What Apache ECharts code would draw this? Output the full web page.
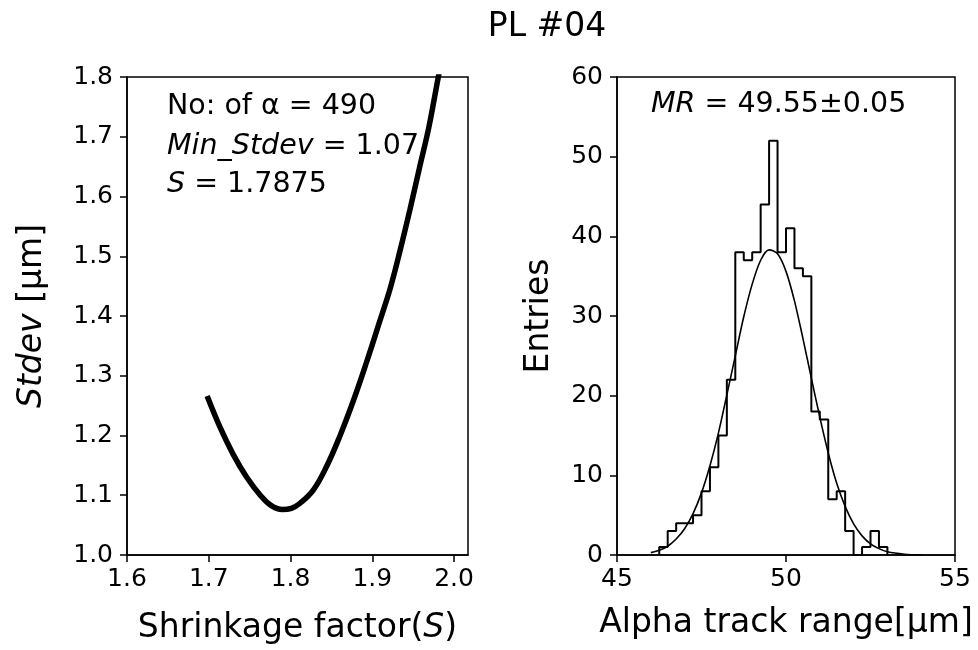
<!DOCTYPE html>
<html><head><meta charset="utf-8">
<script src="https://cdn.jsdelivr.net/npm/echarts@6/dist/echarts.min.js"></script>
<style>html,body{margin:0;padding:0;background:#fff}#c{width:978px;height:650px}</style>
</head><body><div id="c"></div>
<script>
// Left panel: Stdev vs shrinkage factor
const shrinkS   = [1.698, 1.714, 1.730, 1.746, 1.763, 1.776, 1.790, 1.801, 1.812, 1.828, 1.844, 1.860, 1.877, 1.893, 1.909, 1.922, 1.934, 1.946, 1.958, 1.969, 1.980, 1.987];
const stdevVals = [1.266, 1.213, 1.168, 1.131, 1.100, 1.083, 1.076, 1.078, 1.087, 1.109, 1.148, 1.198, 1.259, 1.323, 1.391, 1.447, 1.510, 1.578, 1.650, 1.715, 1.795, 1.845];
const leftXRange = [1.6, 2.017];
const leftXTicks = [1.6, 1.7, 1.8, 1.9, 2.0];
const leftYRange = [1.0, 1.8];

// Right panel: histogram of alpha track range
const binEdges  = [46.25, 46.5, 46.75, 47.0, 47.25, 47.5, 47.75, 48.0, 48.25, 48.5, 48.75, 49.0, 49.25, 49.5, 49.75, 50.0, 50.25, 50.5, 50.75, 51.0, 51.25, 51.5, 51.75, 52.0, 52.25, 52.5, 52.75, 53.0];
const binCounts = [1, 3, 4, 4, 5, 8, 11, 15, 22, 38, 37, 38, 44, 52, 38, 41, 36, 35, 18, 17, 7, 8, 3, 0, 1, 3, 1];
// Gaussian fit curve
const fitX = [46.0, 46.25, 46.5, 46.75, 47.0, 47.25, 47.5, 47.75, 48.0, 48.25, 48.5, 48.75, 49.0, 49.25, 49.5, 49.75, 50.0, 50.25, 50.5, 50.75, 51.0, 51.25, 51.5, 51.75, 52.0, 52.25, 52.5, 52.75, 53.0, 53.5, 54.0];
const fitY = [0.3, 0.6, 1.1, 2.0, 3.3, 5.2, 7.8, 11.2, 15.3, 20.1, 25.0, 29.9, 34.0, 37.0, 38.3, 37.8, 35.6, 31.9, 27.2, 22.2, 17.3, 12.8, 9.0, 6.1, 3.9, 2.4, 1.4, 0.8, 0.4, 0.1, 0.0];
const rightXRange = [45, 55];
const rightYRange = [0, 60];

const FONT = 'DejaVu Sans';
const leftLine = shrinkS.map((s, i) => [s, stdevVals[i]]);
const stepData = [[binEdges[0], 0]];
binCounts.forEach((c, i) => stepData.push([binEdges[i], c]));
stepData.push([binEdges[binEdges.length - 1], 0]);
const fitData = fitX.map((x, i) => [x, fitY[i]]);

const chart = echarts.init(document.getElementById('c'), null, {renderer: 'canvas'});
const axisCommon = {
  axisLine: {show: true, onZero: false, lineStyle: {color: '#000', width: 1.5}},
  axisTick: {show: true, inside: false, length: 7, lineStyle: {color: '#000', width: 1.5}},
  splitLine: {show: false},
  axisLabel: {color: '#000', fontFamily: FONT, fontSize: 25},
  nameTextStyle: {color: '#000', fontFamily: FONT, fontSize: 33,
    rich: {i: {fontStyle: 'italic', fontFamily: FONT, fontSize: 33, color: '#000'}}}
};
const annFont = '28.5px "DejaVu Sans"';
const annRich = {i: {fontStyle: 'italic', fontFamily: FONT, fontSize: 28.5, fill: '#000'}};
chart.setOption({
  animation: false,
  backgroundColor: '#fff',
  title: {text: 'PL #04', left: 542, top: 6, textAlign: 'center',
    textStyle: {fontFamily: FONT, fontSize: 33, fontWeight: 'normal', color: '#000'}},
  grid: [
    {left: 127, top: 77, width: 341, height: 478, show: true, borderColor: '#000', borderWidth: 1.5, backgroundColor: 'transparent'},
    {left: 617, top: 77, width: 338, height: 478, show: true, borderColor: '#000', borderWidth: 1.5, backgroundColor: 'transparent'}
  ],
  xAxis: [
    Object.assign({}, axisCommon, {gridIndex: 0, type: 'value', min: leftXRange[0], max: leftXRange[1],
      name: 'Shrinkage factor({i|S})', nameLocation: 'middle', nameGap: 57,
      axisTick: Object.assign({}, axisCommon.axisTick, {customValues: leftXTicks}),
      axisLabel: Object.assign({}, axisCommon.axisLabel, {margin: 12, customValues: leftXTicks, formatter: v => v.toFixed(1)})}),
    Object.assign({}, axisCommon, {gridIndex: 1, type: 'value', min: rightXRange[0], max: rightXRange[1], interval: 5,
      name: 'Alpha track range[µm]', nameLocation: 'middle', nameGap: 52,
      axisLabel: Object.assign({}, axisCommon.axisLabel, {margin: 12})})
  ],
  yAxis: [
    Object.assign({}, axisCommon, {gridIndex: 0, type: 'value', min: leftYRange[0], max: leftYRange[1], interval: 0.1,
      name: '{i|Stdev} [µm]', nameLocation: 'middle', nameGap: 78, nameRotate: 90,
      axisLabel: Object.assign({}, axisCommon.axisLabel, {margin: 14, formatter: v => v.toFixed(1)})}),
    Object.assign({}, axisCommon, {gridIndex: 1, type: 'value', min: rightYRange[0], max: rightYRange[1], interval: 10,
      name: 'Entries', nameLocation: 'middle', nameGap: 61, nameRotate: 90,
      axisLabel: Object.assign({}, axisCommon.axisLabel, {margin: 14})})
  ],
  series: [
    {type: 'line', xAxisIndex: 0, yAxisIndex: 0, data: leftLine, smooth: 0.4, showSymbol: false,
      lineStyle: {color: '#000', width: 5.5}, clip: true},
    {type: 'line', xAxisIndex: 1, yAxisIndex: 1, data: stepData, step: 'end', showSymbol: false,
      lineStyle: {color: '#000', width: 2}},
    {type: 'line', xAxisIndex: 1, yAxisIndex: 1, data: fitData, smooth: 0.3, showSymbol: false,
      lineStyle: {color: '#000', width: 1.6}}
  ],
  graphic: [
    {type: 'text', left: 167, top: 92, style: {text: 'No: of α = 490', font: annFont, fill: '#000'}},
    {type: 'text', left: 167, top: 132, style: {text: '{i|Min_Stdev} = 1.07', fill: '#000', font: annFont, rich: annRich}},
    {type: 'text', left: 167, top: 170, style: {text: '{i|S} = 1.7875', fill: '#000', font: annFont, rich: annRich}},
    {type: 'text', left: 651, top: 90, style: {text: '{i|MR} = 49.55±0.05', fill: '#000', font: annFont, rich: annRich}}
  ]
});
</script></body></html>
